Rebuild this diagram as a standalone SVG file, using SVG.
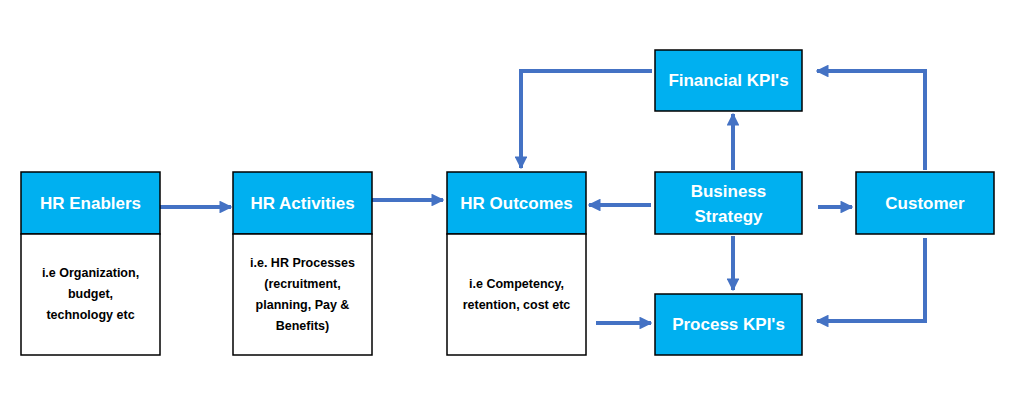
<svg xmlns="http://www.w3.org/2000/svg" width="1024" height="409" viewBox="0 0 1024 409">
<style>
.h{fill:#00B0F0;stroke:#000;stroke-width:1.5}
.b{fill:#fff;stroke:#000;stroke-width:1.5}
.ht{font-family:"Liberation Sans",Arial,sans-serif;font-weight:bold;font-size:17px;fill:#fff;text-anchor:middle}
.bt{font-family:"Liberation Sans",Arial,sans-serif;font-weight:bold;font-size:12.5px;fill:#000;text-anchor:middle}
.c{fill:none;stroke:#4472C4;stroke-width:4;marker-end:url(#a)}
</style>
<defs><marker id="a" viewBox="0 0 10 10" refX="9" refY="5" markerWidth="3.2" markerHeight="3.2" orient="auto" markerUnits="strokeWidth"><path d="M0,0L10,5L0,10z" fill="#4472C4"/></marker></defs>
<rect width="1024" height="409" fill="#fff"/>
<g id="connectors">
<path class="c" d="M160,207H231"/>
<path class="c" d="M372,200H443"/>
<path class="c" d="M651,205H589"/>
<path class="c" d="M818,207H852"/>
<path class="c" d="M733,170V114"/>
<path class="c" d="M733,236V290"/>
<path class="c" d="M652,71H521V168"/>
<path class="c" d="M925,170V71H817"/>
<path class="c" d="M925,238V321H817"/>
<path class="c" d="M596,323H651"/>
</g>
<g id="hr-enablers"><rect class="h" x="21" y="172" width="139" height="62"/><text class="ht" x="90.5" y="209">HR Enablers</text>
<rect class="b" x="21" y="234" width="139" height="121"/><text class="bt" x="90.5" y="277">i.e Organization,</text><text class="bt" x="90.5" y="298">budget,</text><text class="bt" x="90.5" y="319">technology etc</text></g>
<g id="hr-activities"><rect class="h" x="233" y="172" width="139" height="62"/><text class="ht" x="302.5" y="209">HR Activities</text>
<rect class="b" x="233" y="234" width="139" height="121"/><text class="bt" x="302.5" y="267">i.e. HR Processes</text><text class="bt" x="302.5" y="288">(recruitment,</text><text class="bt" x="302.5" y="309">planning, Pay &amp;</text><text class="bt" x="302.5" y="330">Benefits)</text></g>
<g id="hr-outcomes"><rect class="h" x="447" y="172" width="139" height="62"/><text class="ht" x="516.5" y="209">HR Outcomes</text>
<rect class="b" x="447" y="234" width="139" height="121"/><text class="bt" x="516.5" y="288">i.e Competency,</text><text class="bt" x="516.5" y="309">retention, cost etc</text></g>
<g id="business-strategy"><rect class="h" x="655" y="172" width="147" height="62"/><text class="ht" x="728.5" y="197">Business</text><text class="ht" x="728.5" y="222">Strategy</text></g>
<g id="customer"><rect class="h" x="856" y="172" width="138" height="62"/><text class="ht" x="925" y="209">Customer</text></g>
<g id="financial-kpis"><rect class="h" x="655" y="50" width="147" height="61"/><text class="ht" x="728.5" y="86">Financial KPI's</text></g>
<g id="process-kpis"><rect class="h" x="655" y="294" width="147" height="61"/><text class="ht" x="728.5" y="330">Process KPI's</text></g>
</svg>
